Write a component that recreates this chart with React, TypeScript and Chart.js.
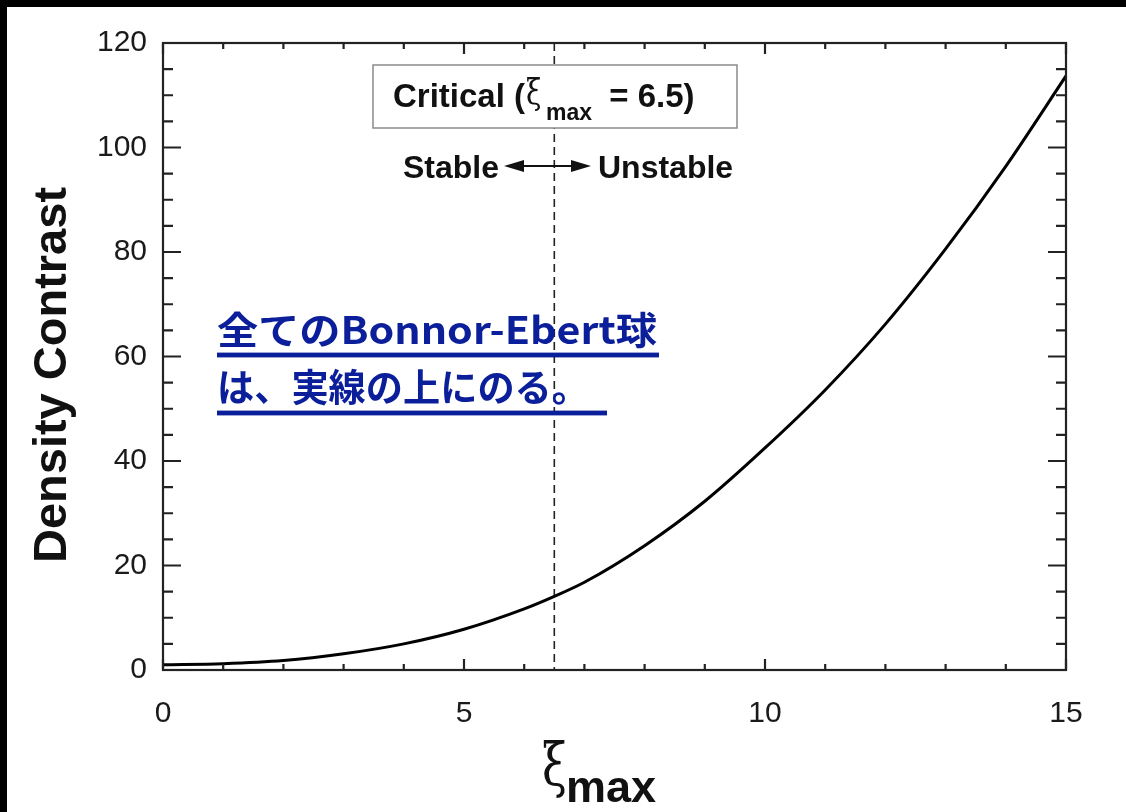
import React, { useEffect, useRef } from "react";
import { Chart, registerables } from "chart.js";

Chart.register(...registerables);

// ---- data ----
const xiMax = [0, 1, 2, 3, 4, 5, 6, 6.5, 7, 8, 9, 10, 11, 12, 13, 14, 15];
const densityContrast = [1.0, 1.2, 1.8, 3.1, 5.0, 7.8, 11.7, 14.1, 16.8, 23.8, 32.3, 42.5, 53.6, 66.2, 80.6, 96.4, 113.7];

const xRange = [0, 15];
const yRange = [0, 120];
const xMajorStep = 5;
const xMinorStep = 1;
const yMajorStep = 20;
const yMinorStep = 5;
const criticalXi = 6.5;

const yAxisTitle = "Density Contrast";
const xAxisSymbol = "ξ";
const xAxisSub = "max";
const boxParts = ["Critical (", "ξ", "max", " = 6.5)"];
const stableLabel = "Stable";
const unstableLabel = "Unstable";
const noteLines = ["全てのBonnor-Ebert球", "は、実線の上にのる。"];

const SANS = '"Liberation Sans", Arial, Helvetica, sans-serif';
const GREEK = '"DejaVu Serif", "Liberation Serif", serif';
const CJK = '"Noto Sans CJK JP", "Noto Sans", sans-serif';
const NOTE_BLUE = "#0c1f9a";

function drawXi(ctx: any, x: number, base: number, size: number, h: number) {
  // draw ξ stretched to the reference glyph height
  ctx.save();
  ctx.font = `${size}px ${GREEK}`;
  ctx.translate(x, base);
  ctx.scale(0.9, h);
  ctx.fillText(xAxisSymbol, 0, 0);
  ctx.restore();
}

const decor = {
  id: "decor",
  beforeDraw(chart: any) {
    const ctx = chart.ctx;
    ctx.save();
    ctx.fillStyle = "#ffffff";
    ctx.fillRect(0, 0, chart.width, chart.height);
    ctx.restore();
  },
  beforeDatasetsDraw(chart: any) {
    const ctx = chart.ctx;
    const { top, bottom } = chart.chartArea;
    const xs = chart.scales.x;
    const px = xs.getPixelForValue(criticalXi);
    ctx.save();
    ctx.strokeStyle = "#222";
    ctx.lineWidth = 1.6;
    ctx.setLineDash([8, 5]);
    ctx.beginPath();
    ctx.moveTo(px, top);
    ctx.lineTo(px, bottom);
    ctx.stroke();
    ctx.restore();
  },
  afterDatasetsDraw(chart: any) {
    const ctx = chart.ctx;
    const { left, right, top, bottom } = chart.chartArea;
    const xs = chart.scales.x;
    const ys = chart.scales.y;
    ctx.save();

    // frame
    ctx.strokeStyle = "#222";
    ctx.lineWidth = 2.2;
    ctx.strokeRect(left, top, right - left, bottom - top);

    // inward ticks
    ctx.beginPath();
    for (let v = xRange[0]; v <= xRange[1]; v += xMinorStep) {
      const p = xs.getPixelForValue(v);
      const len = v % xMajorStep === 0 ? 11 : 6;
      ctx.moveTo(p, bottom);
      ctx.lineTo(p, bottom - len);
      ctx.moveTo(p, top);
      ctx.lineTo(p, top + len);
    }
    for (let v = yRange[0]; v <= yRange[1]; v += yMinorStep) {
      const p = ys.getPixelForValue(v);
      const len = v % yMajorStep === 0 ? 18 : 10;
      ctx.moveTo(left, p);
      ctx.lineTo(left + len, p);
      ctx.moveTo(right, p);
      ctx.lineTo(right - len, p);
    }
    ctx.stroke();

    // critical box
    ctx.fillStyle = "#fff";
    ctx.fillRect(373, 65, 364, 63);
    ctx.strokeStyle = "#8a8a8a";
    ctx.lineWidth = 1.5;
    ctx.strokeRect(373, 65, 364, 63);

    ctx.fillStyle = "#111";
    ctx.textBaseline = "alphabetic";
    ctx.textAlign = "left";
    let cx = 393;
    ctx.font = `bold 33px ${SANS}`;
    ctx.fillText(boxParts[0], cx, 107);
    cx += ctx.measureText(boxParts[0]).width + 1;
    drawXi(ctx, cx, 104, 31, 1.15);
    cx += 20;
    ctx.font = `bold 23px ${SANS}`;
    ctx.fillText(boxParts[2], cx, 120);
    cx += ctx.measureText(boxParts[2]).width + 8;
    ctx.font = `bold 33px ${SANS}`;
    ctx.fillText(boxParts[3], cx, 107);

    // stable / unstable
    ctx.font = `bold 32px ${SANS}`;
    ctx.fillText(stableLabel, 403, 178);
    ctx.fillText(unstableLabel, 598, 178);
    const ay = 166;
    ctx.strokeStyle = "#111";
    ctx.lineWidth = 2;
    ctx.beginPath();
    ctx.moveTo(515, ay);
    ctx.lineTo(580, ay);
    ctx.stroke();
    ctx.beginPath();
    ctx.moveTo(504, ay);
    ctx.lineTo(524, ay - 6);
    ctx.lineTo(524, ay + 6);
    ctx.closePath();
    ctx.moveTo(591, ay);
    ctx.lineTo(571, ay - 6);
    ctx.lineTo(571, ay + 6);
    ctx.closePath();
    ctx.fill();

    // Japanese note
    const noteTargets = [
      { x: 217, base: 344, width: 440, ul: 355, ulEnd: 659 },
      { x: 217, base: 401, width: 372, ul: 413, ulEnd: 607 },
    ];
    ctx.fillStyle = NOTE_BLUE;
    ctx.font = `bold 38px ${CJK}`;
    noteLines.forEach((t, i) => {
      const g = noteTargets[i];
      const w = ctx.measureText(t).width;
      ctx.save();
      ctx.translate(g.x, g.base);
      ctx.scale(g.width / w, 1);
      ctx.fillText(t, 0, 0);
      ctx.restore();
      ctx.fillRect(g.x, g.ul - 2.4, g.ulEnd - g.x, 4.8);
    });

    // y-axis title
    ctx.fillStyle = "#111";
    ctx.save();
    ctx.translate(66, 375);
    ctx.rotate(-Math.PI / 2);
    ctx.font = `bold 47px ${SANS}`;
    ctx.textAlign = "center";
    ctx.textBaseline = "alphabetic";
    ctx.fillText(yAxisTitle, 0, 0);
    ctx.restore();

    // x-axis title
    ctx.textAlign = "left";
    drawXi(ctx, 542, 786, 50, 1.2);
    ctx.font = `bold 45px ${SANS}`;
    ctx.fillText(xAxisSub, 566, 802);

    // black border strips (top & left)
    ctx.fillStyle = "#000";
    ctx.fillRect(0, 0, chart.width, 7);
    ctx.fillRect(0, 0, 7, chart.height);

    ctx.restore();
  },
};

export default function App() {
  const ref = useRef<HTMLCanvasElement>(null);
  useEffect(() => {
    const canvas = ref.current;
    if (!canvas) return;
    const chart = new Chart(canvas, {
      type: "line",
      data: {
        datasets: [
          {
            data: xiMax.map((x, i) => ({ x, y: densityContrast[i] })),
            borderColor: "#000",
            borderWidth: 3,
            pointRadius: 0,
            cubicInterpolationMode: "monotone",
            fill: false,
          },
        ],
      },
      options: {
        animation: false,
        responsive: false,
        devicePixelRatio: 1,
        layout: { padding: { left: 7, top: 43, right: 60, bottom: 0 } },
        plugins: { legend: { display: false }, tooltip: { enabled: false } },
        scales: {
          x: {
            type: "linear",
            min: xRange[0],
            max: xRange[1],
            ticks: {
              stepSize: xMajorStep,
              font: { family: SANS, size: 30 },
              color: "#1a1a1a",
              padding: 26,
              maxRotation: 0,
            },
            grid: { display: false, drawTicks: false },
            border: { display: false },
            afterFit: (s: any) => {
              s.height = 142;
            },
          },
          y: {
            type: "linear",
            min: yRange[0],
            max: yRange[1],
            ticks: {
              stepSize: yMajorStep,
              font: { family: SANS, size: 30 },
              color: "#1a1a1a",
              padding: 16,
            },
            grid: { display: false, drawTicks: false },
            border: { display: false },
            afterFit: (s: any) => {
              s.width = 156;
            },
          },
        },
      } as any,
      plugins: [decor],
    });
    return () => chart.destroy();
  }, []);
  return (
    <div style={{ position: "fixed", left: 0, top: 0, width: 1126, height: 812, background: "#fff" }}>
      <canvas ref={ref} width={1126} height={812} style={{ display: "block" }} />
    </div>
  );
}
